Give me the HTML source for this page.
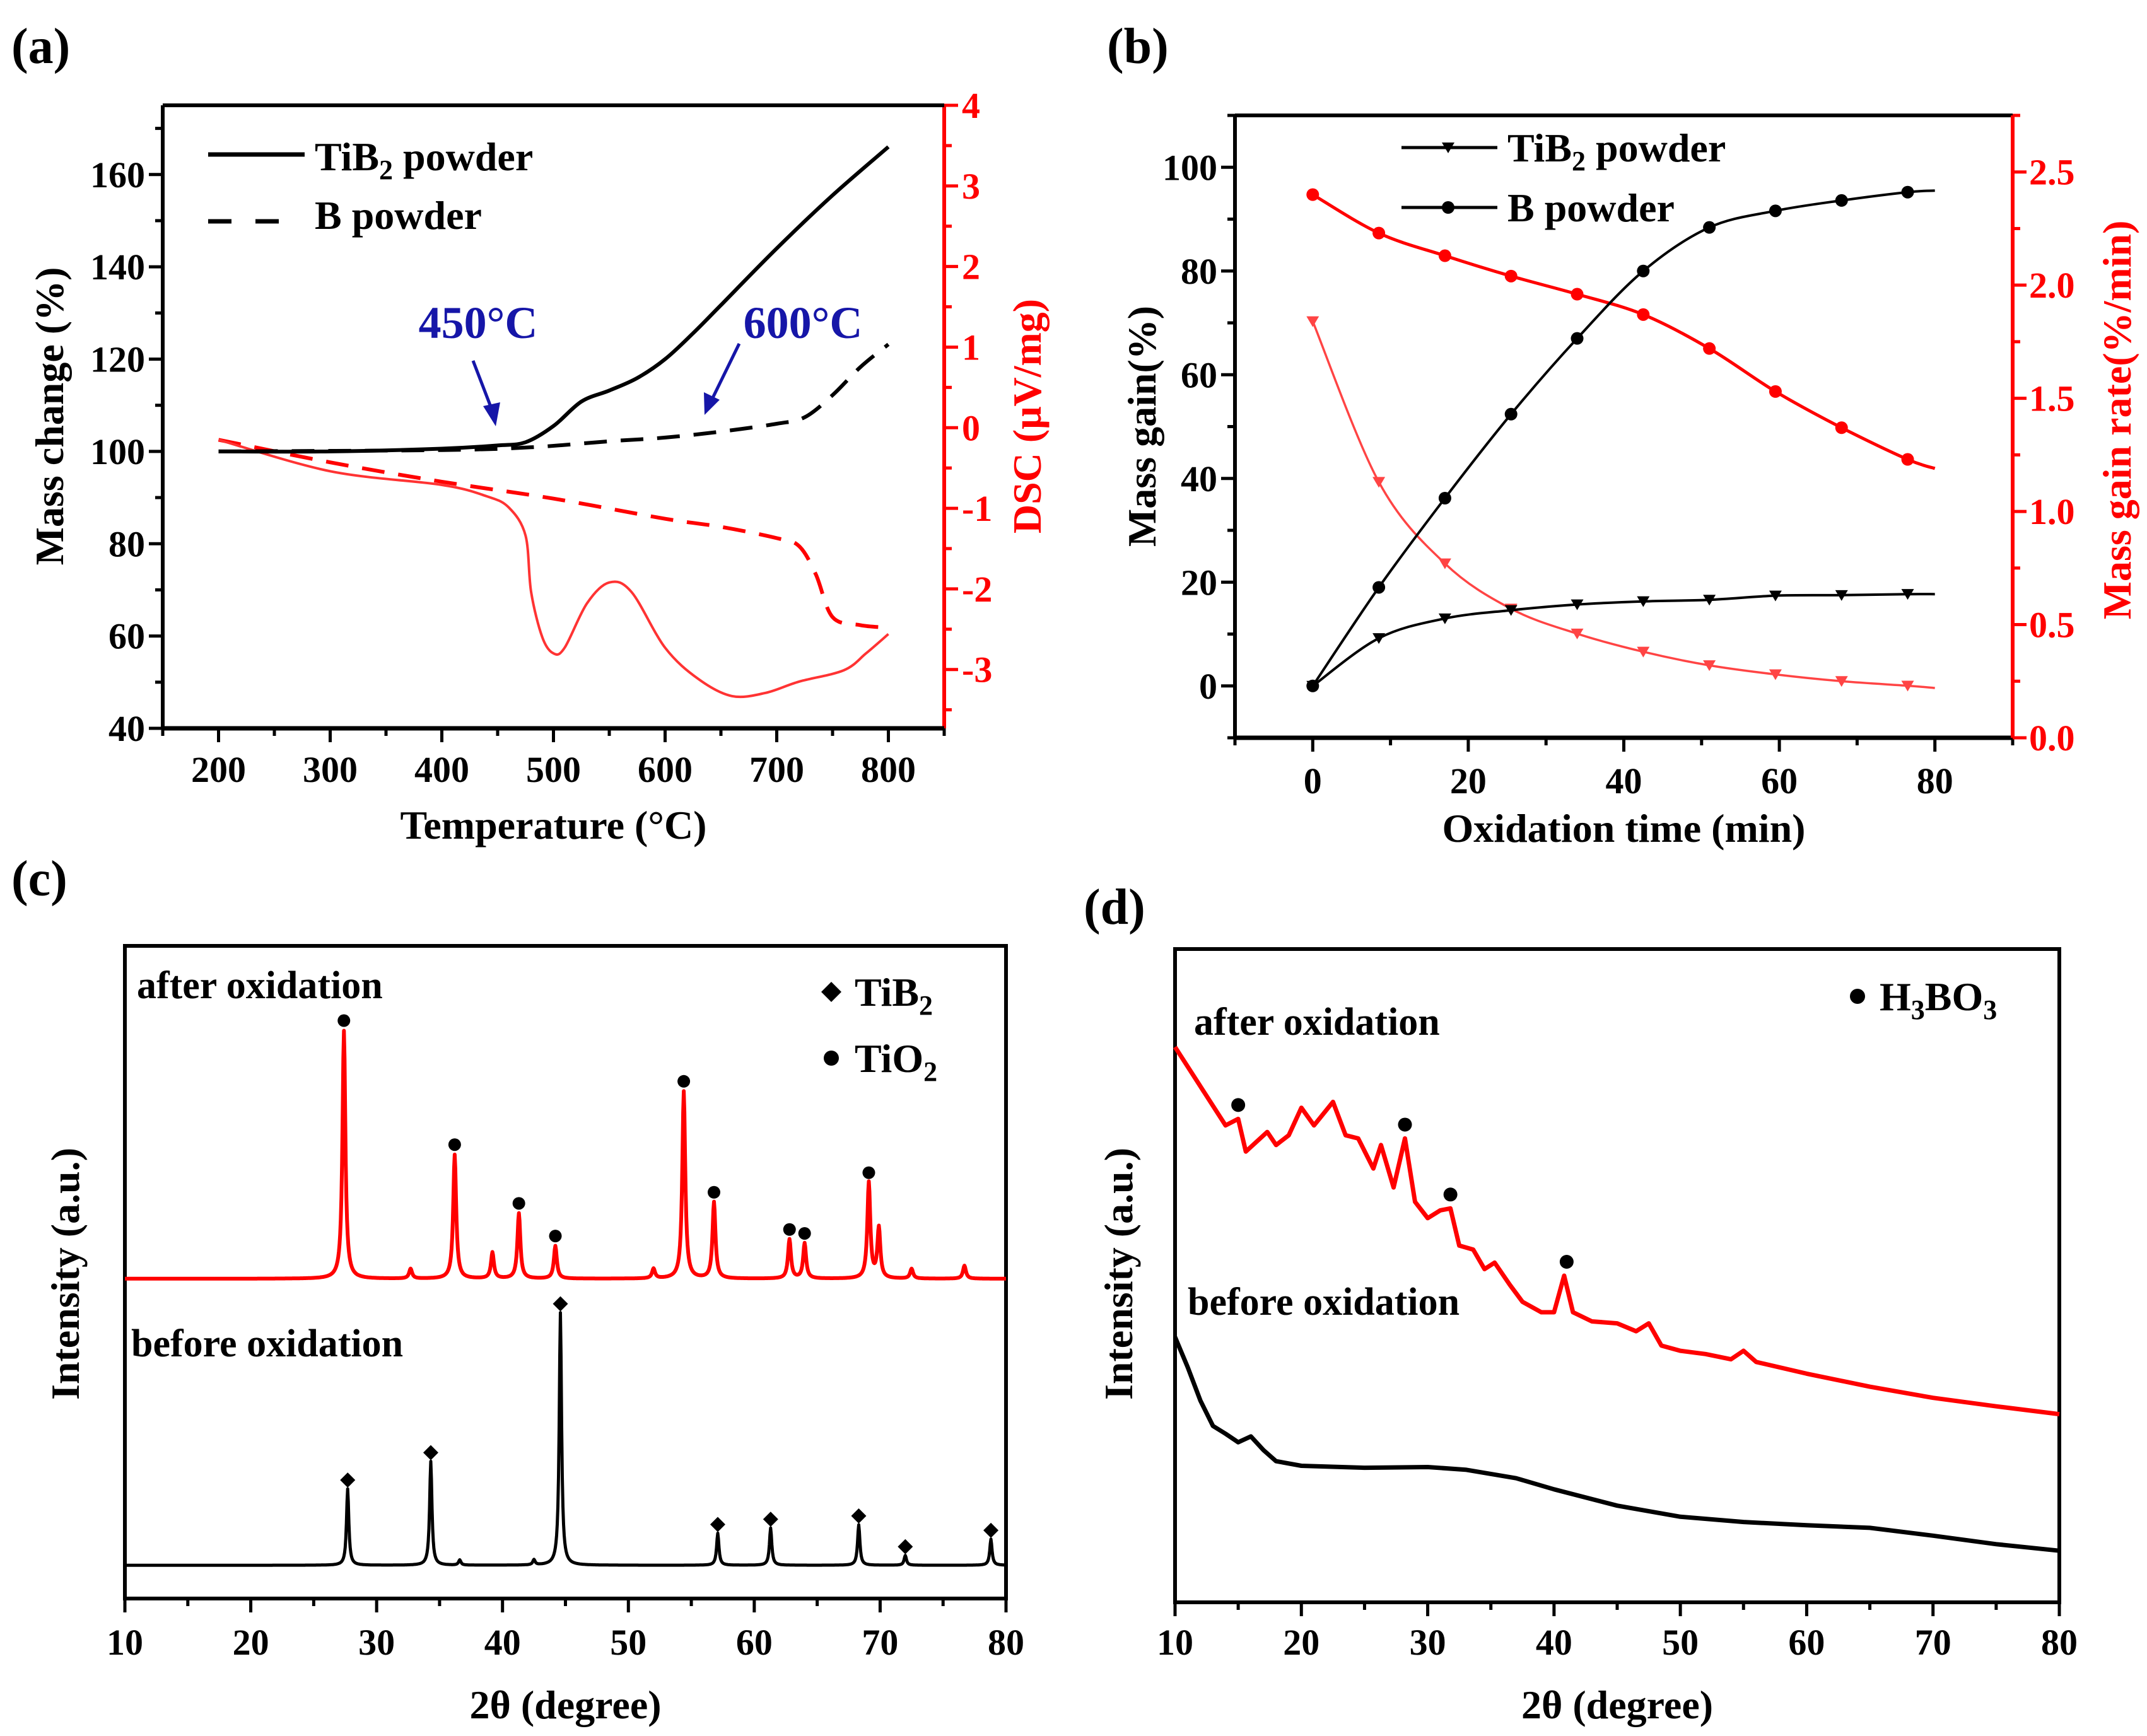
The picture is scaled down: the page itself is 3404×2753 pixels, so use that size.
<!DOCTYPE html>
<html><head><meta charset="utf-8">
<style>
html,body{margin:0;padding:0;background:#fff;}
svg{display:block;}
text{font-family:"Liberation Serif",serif;font-weight:bold;}
</style></head>
<body>
<svg id="fig" xmlns="http://www.w3.org/2000/svg" width="3404" height="2753" viewBox="0 0 3404 2753">
<rect width="3404" height="2753" fill="#fff"/>
</svg>
<script>
// ---------- Panel (a) data ----------
const aTiB2T = [200,300,400,450,475,500,525,550,575,600,625,650,700,750,800];
const aTiB2M = [100,100,100.6,101.3,102,105.5,110.8,113.2,115.9,120,125.6,131.7,144,155.5,166];
const aBT = [200,400,480,550,600,650,700,725,750,775,800];
const aBM = [100,100.3,100.9,102.2,103,104.3,106,107.4,112.2,118.3,123.2];
const aDscTiB2T = [200,300,400,440,460,475,480,490,500,510,530,550,570,600,630,660,690,720,760,780,800];
const aDscTiB2V = [-0.15,-0.54,-0.71,-0.85,-0.99,-1.34,-2.04,-2.6,-2.8,-2.73,-2.18,-1.92,-2.04,-2.73,-3.12,-3.33,-3.29,-3.15,-3.01,-2.8,-2.56];
const aDscBT = [200,300,400,500,600,650,700,720,735,750,775,800];
const aDscBV = [-0.15,-0.43,-0.67,-0.88,-1.13,-1.23,-1.37,-1.47,-1.82,-2.35,-2.45,-2.48];
const aXTicks = [200,300,400,500,600,700,800];
const aYTicks = [40,60,80,100,120,140,160];
const aY2Ticks = [-3,-2,-1,0,1,2,3,4];
// ---------- Panel (b) data ----------
const bTime = [0,8.5,17,25.5,34,42.5,51,59.5,68,76.5];
const bBGain = [0,19,36.2,52.4,67,80,88.4,91.6,93.6,95.2];
const bTiGain = [0,9.2,13,14.6,15.7,16.3,16.6,17.4,17.5,17.7];
const bBRate = [2.40,2.23,2.13,2.04,1.96,1.87,1.72,1.53,1.37,1.23];
const bTiRate = [1.84,1.13,0.77,0.57,0.46,0.38,0.32,0.28,0.25,0.23];
const bEndT = 80, bEndBGain = 95.5, bEndTiGain = 17.7, bEndBRate = 1.19, bEndTiRate = 0.22;
const bXTicks = [0,20,40,60,80];
const bYTicks = [0,20,40,60,80,100];
const bY2Ticks = [0.0,0.5,1.0,1.5,2.0,2.5];
const bY2Labels = ["0.0","0.5","1.0","1.5","2.0","2.5"];
// ---------- Panel (c) data ----------
const cRedBase = 49;
const cRedPeakPos = [27.4,36.2,39.2,41.3,44.2,54.4,56.8,62.8,64.0,69.1,69.9,32.7,52.0,72.5,76.7];
const cRedPeakH = [38,19,4,10,5,28.7,11.7,6,5.4,14.7,7.7,1.5,1.5,1.5,2];
const cRedMarkers = [27.4,36.2,41.3,44.2,54.4,56.8,62.8,64.0,69.1];
const cBlackBase = 5.1;
const cBlackPeakPos = [27.7,34.3,44.6,57.1,61.3,68.3,72.0,78.8,36.6,42.5];
const cBlackPeakH = [11.7,15.9,38.7,4.9,5.7,6.2,1.5,4.0,0.8,0.8];
const cBlackMarkers = [27.7,34.3,44.6,57.1,61.3,68.3,72.0,78.8];
const cdXTicks = [10,20,30,40,50,60,70,80];
// ---------- Panel (d) data ----------
const dRedX = [10,12,14,15,15.6,17.3,18,19,20,21,22.5,23.5,24.5,25.7,26.3,27.3,28.2,29,30,31,31.8,32.5,33.6,34.5,35.3,36.5,37.5,39,40,40.8,41.5,43,45,46.5,47.5,48.5,50,52,54,55,56,60,65,70,75,80];
const dRedY = [85,79,73,74,69,72,70,71.5,75.7,73,76.6,71.5,71,66.4,70,63.5,71,61.3,58.8,60,60.3,54.6,54,51,52,48.6,46,44.4,44.4,50,44.4,43,42.7,41.5,42.7,39.3,38.5,38,37.2,38.5,36.8,35,33,31.3,30,28.8];
const dBlackX = [10,11,12,13,14,15,16,17,18,20,25,30,33,37,40,45,50,55,60,65,70,75,80];
const dBlackY = [40.6,36,30.9,27,25.8,24.5,25.4,23.3,21.6,20.9,20.6,20.7,20.3,19,17.3,14.8,13.1,12.3,11.8,11.4,10.2,8.9,7.9];
const dMarkers = [15,28.2,31.8,41];
const dMarkerY = [74,71,60.3,50];

const NS = "http://www.w3.org/2000/svg";
const svg = document.getElementById('fig');
function el(tag, attrs, parent){
  const e = document.createElementNS(NS, tag);
  for (const k in attrs) e.setAttribute(k, attrs[k]);
  (parent||svg).appendChild(e);
  return e;
}
function txt(str, x, y, size, anchor, fill, parent){
  const t = el('text', {x:x, y:y, 'font-size':size, 'text-anchor':anchor||'start', fill:fill||'#000'}, parent);
  t.textContent = str;
  return t;
}
function lin(d0,d1,p0,p1){ return v => p0 + (v-d0)*(p1-p0)/(d1-d0); }
function smoothPath(pts){
  let d = 'M'+pts[0][0].toFixed(1)+','+pts[0][1].toFixed(1);
  for (let i=0;i<pts.length-1;i++){
    const p0 = pts[i-1]||pts[i], p1 = pts[i], p2 = pts[i+1], p3 = pts[i+2]||p2;
    const c1 = [p1[0]+(p2[0]-p0[0])/6, p1[1]+(p2[1]-p0[1])/6];
    const c2 = [p2[0]-(p3[0]-p1[0])/6, p2[1]-(p3[1]-p1[1])/6];
    d += ' C'+c1[0].toFixed(1)+','+c1[1].toFixed(1)+' '+c2[0].toFixed(1)+','+c2[1].toFixed(1)+' '+p2[0].toFixed(1)+','+p2[1].toFixed(1);
  }
  return d;
}
function polyPath(pts){ return 'M'+pts.map(p=>p[0].toFixed(1)+','+p[1].toFixed(1)).join(' L'); }
function frame(L,T,R,B,color,g){
  el('rect',{x:L,y:T,width:R-L,height:B-T,fill:'none',stroke:'#000','stroke-width':6},g);
}
function tick(x1,y1,x2,y2,color,g){ el('line',{x1:x1,y1:y1,x2:x2,y2:y2,stroke:color,'stroke-width':5},g); }
function triDown(x,y,s,fill,g){
  return el('path',{d:`M${x-s},${y-s*0.8} L${x+s},${y-s*0.8} L${x},${y+s*0.9} Z`,fill:fill},g);
}
function diamond(x,y,s,g){
  return el('path',{d:`M${x},${y-s} L${x+s},${y} L${x},${y+s} L${x-s},${y} Z`,fill:'#000'},g);
}

const pl = [['(a)',18,100],['(b)',1755,100],['(c)',18,1420],['(d)',1718,1465]];
pl.forEach(p=>{ const t = txt(p[0],p[1],p[2],80,'start','#000');
  
   });

// ================= Panel (a) =================
(function(){
  const g = el('g',{});
  
  
  const L=258,T=167,R=1497,B=1155;
  const X = lin(150,850,L,R), Y = lin(40,175,B,T), Y2 = lin(-3.73,4,B,T);
  for (let v=150; v<=850; v+=50){ const x=X(v); tick(x,B,x,B+((v%100===0)?22:12),'#000',g); }
  for (let v=40; v<=170; v+=10){ const y=Y(v); tick(L,y,L-((v%20===0)?22:12),y,'#000',g); }
  for (let v=-3.5; v<=4; v+=0.5){ const y=Y2(v); tick(R,y,R+((Math.abs(v%1)<0.01)?22:12),y,'#f00',g); }
  el('line',{x1:R,y1:T,x2:R,y2:B,stroke:'#f00','stroke-width':6},g);
  el('line',{x1:L,y1:T,x2:R,y2:T,stroke:'#000','stroke-width':6},g);
  el('line',{x1:L,y1:B,x2:R,y2:B,stroke:'#000','stroke-width':7},g);
  el('line',{x1:L,y1:T,x2:L,y2:B,stroke:'#000','stroke-width':6},g);
  aXTicks.forEach(v=>{ txt(String(v),X(v),B+85,58,'middle','#000',g); });
  aYTicks.forEach(v=>{ txt(String(v),L-28,Y(v)+20,58,'end','#000',g); });
  aY2Ticks.forEach(v=>{ txt(String(v),R+28,Y2(v)+20,58,'start','#f00',g); });
  const xt = txt('Temperature (°C)',(L+R)/2,1330,64,'middle','#000',g);
   
  const yt = txt('Mass change (%)',0,0,64,'middle','#000',g);
  yt.setAttribute('transform','translate(100,660) rotate(-90)');
   
  const y2t = txt('DSC (μV/mg)',0,0,64,'middle','#f00',g);
  y2t.setAttribute('transform','translate(1650,660) rotate(-90)');
   
  const s1 = el('path',{d:smoothPath(aDscBT.map((t,i)=>[X(t),Y2(aDscBV[i])])),fill:'none',stroke:'#f00','stroke-width':6,'stroke-dasharray':'36,22'},g);
   
  const s2 = el('path',{d:smoothPath(aDscTiB2T.map((t,i)=>[X(t),Y2(aDscTiB2V[i])])),fill:'none',stroke:'#f33','stroke-width':4},g);
   
  const s3 = el('path',{d:smoothPath(aBT.map((t,i)=>[X(t),Y(aBM[i])])),fill:'none',stroke:'#000','stroke-width':6,'stroke-dasharray':'36,22'},g);
   
  const s4 = el('path',{d:smoothPath(aTiB2T.map((t,i)=>[X(t),Y(aTiB2M[i])])),fill:'none',stroke:'#000','stroke-width':6},g);
   
  const lg = el('g',{},g);
   
  el('line',{x1:330,y1:245,x2:483,y2:245,stroke:'#000','stroke-width':7},lg);
  const t1 = txt('TiB',499,270,64,'start','#000',lg);
  const sub = el('tspan',{'font-size':44,dy:14},t1); sub.textContent='2';
  const rest = el('tspan',{dy:-14},t1); rest.textContent=' powder';
  el('line',{x1:330,y1:351,x2:367,y2:351,stroke:'#000','stroke-width':7},lg);
  el('line',{x1:405,y1:351,x2:442,y2:351,stroke:'#000','stroke-width':7},lg);
  txt('B powder',499,363,64,'start','#000',lg);
  const an1 = txt('450°C',758,536,72,'middle','#1616a8',g);
   
  const an2 = txt('600°C',1273,536,72,'middle','#1616a8',g);
   
  el('line',{x1:750,y1:572,x2:780,y2:650,stroke:'#1616a8','stroke-width':5},g);
  el('path',{d:'M786,676 L766,644 L793,638 Z',fill:'#1616a8'},g);
  el('line',{x1:1172,y1:545,x2:1128,y2:635,stroke:'#1616a8','stroke-width':5},g);
  el('path',{d:'M1117,658 L1116,622 L1141,634 Z',fill:'#1616a8'},g);
})();

// ================= Panel (b) =================
(function(){
  const g = el('g',{});
  
  
  const L=1958,T=183,R=3191,B=1170;
  const X = lin(-10,90,L,R), Y = lin(-10,110,B,T), Y2 = lin(0,2.75,B,T);
  for (let v=-10; v<=90; v+=10){ const x=X(v); tick(x,B,x,B+((v%20===0)?22:12),'#000',g); }
  for (let v=-10; v<=110; v+=10){ const y=Y(v); tick(L,y,L-((v%20===0)?22:12),y,'#000',g); }
  for (let v=0; v<=2.75001; v+=0.25){ const y=Y2(v); tick(R,y,R+((Math.abs((v*2)%1)<0.01)?22:12),y,'#f00',g); }
  el('line',{x1:L,y1:T,x2:R,y2:T,stroke:'#000','stroke-width':6},g);
  el('line',{x1:L,y1:B,x2:R,y2:B,stroke:'#000','stroke-width':7},g);
  el('line',{x1:L,y1:T,x2:L,y2:B,stroke:'#000','stroke-width':6},g);
  el('line',{x1:R,y1:T,x2:R,y2:B,stroke:'#f00','stroke-width':6},g);
  bXTicks.forEach(v=>{ txt(String(v),X(v),B+88,58,'middle','#000',g); });
  bYTicks.forEach(v=>{ txt(String(v),L-28,Y(v)+20,58,'end','#000',g); });
  bY2Ticks.forEach((v,i)=>{ txt(bY2Labels[i],R+26,Y2(v)+20,58,'start','#f00',g); });
  const xt = txt('Oxidation time (min)',(L+R)/2,1335,64,'middle','#000',g);
   
  const yt = txt('Mass gain(%)',0,0,64,'middle','#000',g);
  yt.setAttribute('transform','translate(1832,676) rotate(-90)');
   
  const y2t = txt('Mass gain rate(%/min)',0,0,64,'middle','#f00',g);
  y2t.setAttribute('transform','translate(3378,666) rotate(-90)');
   
  function series(vals, end, yf, color, w, marker, name){
    const pts = bTime.map((t,i)=>[X(t),yf(vals[i])]).concat([[X(bEndT),yf(end)]]);
    const p = el('path',{d:smoothPath(pts),fill:'none',stroke:color,'stroke-width':w},g);
     
    bTime.forEach((t,i)=>{
      let m;
      if (marker==='c') m = el('circle',{cx:X(t),cy:yf(vals[i]),r:10,fill:color},g);
      else m = triDown(X(t),yf(vals[i]),10,color,g);
       
    });
  }
  series(bTiRate,bEndTiRate,Y2,'#f44',3.5,'t','tib2-rate');
  series(bBRate,bEndBRate,Y2,'#f00',5,'c','b-rate');
  series(bTiGain,bEndTiGain,Y,'#000',4,'t','tib2-gain');
  series(bBGain,bEndBGain,Y,'#000',4,'c','b-gain');
  const lg = el('g',{},g);
   
  el('line',{x1:2222,y1:234,x2:2374,y2:234,stroke:'#000','stroke-width':5},lg);
  triDown(2296,234,10,'#000',lg);
  const t1 = txt('TiB',2390,256,64,'start','#000',lg);
  const sub = el('tspan',{'font-size':44,dy:14},t1); sub.textContent='2';
  const rest = el('tspan',{dy:-14},t1); rest.textContent=' powder';
  el('line',{x1:2222,y1:329,x2:2374,y2:329,stroke:'#000','stroke-width':5},lg);
  el('circle',{cx:2296,cy:329,r:10,fill:'#000'},lg);
  txt('B powder',2390,351,64,'start','#000',lg);
})();

// ================= Panel (c) =================
(function(){
  const g = el('g',{});
  
  
  const L=198,T=1500,R=1595,B=2535;
  const X = lin(10,80,L,R), Y = lin(0,100,B,T);
  for (let v=10; v<=80; v+=5){ const x=X(v); tick(x,B,x,B+((v%10===0)?22:12),'#000',g); }
  frame(L,T,R,B,'#000',g);
  cdXTicks.forEach(v=>{ txt(String(v),X(v),2624,58,'middle','#000',g); });
  const xt = txt('2θ (degree)',(L+R)/2,2725,64,'middle','#000',g);
   
  const yt = txt('Intensity (a.u.)',0,0,64,'middle','#000',g);
  yt.setAttribute('transform','translate(125,2020) rotate(-90)');
   
  function profile(base, pos, h, w){
    const pts=[];
    for (let x=10; x<=80.001; x+=0.05){
      let v=base;
      pos.forEach((p,i)=>{ const d=(x-p)/w; v+=h[i]/(1+d*d*4); });
      pts.push([X(x),Y(v)]);
    }
    return pts;
  }
  const rp = el('path',{d:polyPath(profile(cRedBase,cRedPeakPos,cRedPeakH,0.28)),fill:'none',stroke:'#f00','stroke-width':6,'stroke-linejoin':'round'},g);
   
  const bp = el('path',{d:polyPath(profile(cBlackBase,cBlackPeakPos,cBlackPeakH,0.22)),fill:'none',stroke:'#000','stroke-width':5,'stroke-linejoin':'round'},g);
   
  cRedMarkers.forEach(p=>{
    const i = cRedPeakPos.indexOf(p);
    const m = el('circle',{cx:X(p),cy:Y(cRedBase+cRedPeakH[i])-16,r:10,fill:'#000'},g);
     
  });
  cBlackMarkers.forEach(p=>{
    const i = cBlackPeakPos.indexOf(p);
    const m = diamond(X(p),Y(cBlackBase+cBlackPeakH[i])-14,12,g);
     
  });
  const a1 = txt('after oxidation',217,1583,62,'start','#000',g);
   
  const a2 = txt('before oxidation',208,2151,62,'start','#000',g);
   
  const lg = el('g',{},g);
   
  diamond(1318,1573,16,lg);
  const t1 = txt('TiB',1355,1595,64,'start','#000',lg);
  const s1 = el('tspan',{'font-size':44,dy:14},t1); s1.textContent='2';
  el('circle',{cx:1318,cy:1678,r:12,fill:'#000'},lg);
  const t2 = txt('TiO',1355,1700,64,'start','#000',lg);
  const s2 = el('tspan',{'font-size':44,dy:14},t2); s2.textContent='2';
})();

// ================= Panel (d) =================
(function(){
  const g = el('g',{});
  
  
  const L=1863,T=1505,R=3265,B=2541;
  const X = lin(10,80,L,R), Y = lin(0,100,B,T);
  for (let v=10; v<=80; v+=5){ const x=X(v); tick(x,B,x,B+((v%10===0)?22:12),'#000',g); }
  frame(L,T,R,B,'#000',g);
  cdXTicks.forEach(v=>{ txt(String(v),X(v),2624,58,'middle','#000',g); });
  const xt = txt('2θ (degree)',(L+R)/2,2725,64,'middle','#000',g);
   
  const yt = txt('Intensity (a.u.)',0,0,64,'middle','#000',g);
  yt.setAttribute('transform','translate(1795,2020) rotate(-90)');
   
  const rp = el('path',{d:polyPath(dRedX.map((x,i)=>[X(x),Y(dRedY[i])])),fill:'none',stroke:'#f00','stroke-width':7,'stroke-linejoin':'round'},g);
   
  const bp = el('path',{d:polyPath(dBlackX.map((x,i)=>[X(x),Y(dBlackY[i])])),fill:'none',stroke:'#000','stroke-width':7,'stroke-linejoin':'round'},g);
   
  dMarkers.forEach((p,i)=>{
    const m = el('circle',{cx:X(p),cy:Y(dMarkerY[i])-22,r:11,fill:'#000'},g);
     
  });
  const a1 = txt('after oxidation',1893,1641,62,'start','#000',g);
   
  const a2 = txt('before oxidation',1883,2085,62,'start','#000',g);
   
  const lg = el('g',{},g);
   
  el('circle',{cx:2945,cy:1580,r:12,fill:'#000'},lg);
  const t = txt('H',2980,1602,64,'start','#000',lg);
  const s1 = el('tspan',{'font-size':44,dy:14},t); s1.textContent='3';
  const s2 = el('tspan',{dy:-14},t); s2.textContent='BO';
  const s3 = el('tspan',{'font-size':44,dy:14},t); s3.textContent='3';
})();
</script>
</body></html>
